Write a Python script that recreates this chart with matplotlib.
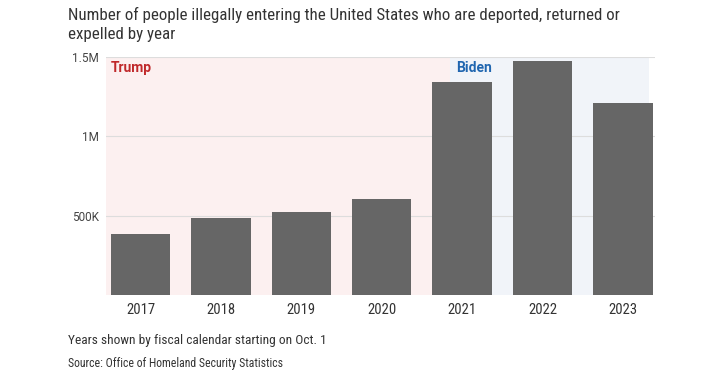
import matplotlib.pyplot as plt
from matplotlib import font_manager

# fiscal years and people deported / returned / expelled
years = ['2017', '2018', '2019', '2020', '2021', '2022', '2023']
removals = [386000, 487000, 525000, 608000, 1342000, 1475000, 1209000]
ytick_vals = [500000, 1000000, 1500000]
ytick_labels = ['500K', '1M', '1.5M']

title1 = 'Number of people illegally entering the United States who are deported, returned or'
title2 = 'expelled by year'
note = 'Years shown by fiscal calendar starting on Oct. 1'
source = 'Source: Office of Homeland Security Statistics'

installed = {f.name for f in font_manager.fontManager.ttflist}


def pick(*fams):
    return [f for f in fams if f in installed] + ['DejaVu Sans']


narrow = pick('Roboto Condensed', 'Archivo Narrow')
plain = pick('Roboto', 'Liberation Sans')
plt.rcParams['font.family'] = narrow

W, H = 720, 383
fig = plt.figure(figsize=(W / 100, H / 100), dpi=100)
ax = fig.add_axes([106 / W, 1 - 295 / H, 549 / W, 238 / H])

x = list(range(len(years)))
left, right = -0.43, 6.4
switch = 3.85  # Jan 2021 falls inside FY2021

ax.axvspan(left, switch, color='#fcf0f0', zorder=0, lw=0)
ax.axvspan(switch, 6.33, color='#f1f4f9', zorder=0, lw=0)
for v in ytick_vals:
    ax.axhline(v, color='#dddddd', lw=0.8, zorder=1)

ax.bar(x, removals, width=0.74, color='#666666', zorder=2)

ax.set_xlim(left, right)
ax.set_ylim(0, 1500000)
ax.set_xticks(x)
ax.set_xticklabels(years, fontsize=10.5, color='#333333')
ax.set_yticks(ytick_vals)
ax.set_yticklabels(ytick_labels, fontsize=8.5, color='#444444', family=plain)
ax.tick_params(length=0)
ax.tick_params(axis='x', pad=6)
ax.tick_params(axis='y', pad=5)
for s in ax.spines.values():
    s.set_visible(False)

ax.text(left + 0.06, 1430000, 'Trump', color='#c0292b', fontweight='bold',
        fontsize=10, family=plain, va='center', ha='left', zorder=3)
ax.text(4.37, 1430000, 'Biden', color='#2066b0', fontweight='bold',
        fontsize=10, family=plain, va='center', ha='right', zorder=3)

renderer = fig.canvas.get_renderer()


def put(txt, xpx, ypx, size, width=None, **kw):
    t = fig.text(xpx / W, 1 - ypx / H, txt, fontsize=size, color='#333333',
                 va='baseline', ha='left', **kw)
    if width:
        w = t.get_window_extent(renderer).width
        t.set_fontsize(size * width / w)
    return t


t1 = put(title1, 68, 20, 12, width=552)
put(title2, 68, 39, t1.get_fontsize())
put(note, 68, 344, 9, width=259)
put(source, 68, 367, 8, width=215)

fig.savefig('out.png', dpi=100)
